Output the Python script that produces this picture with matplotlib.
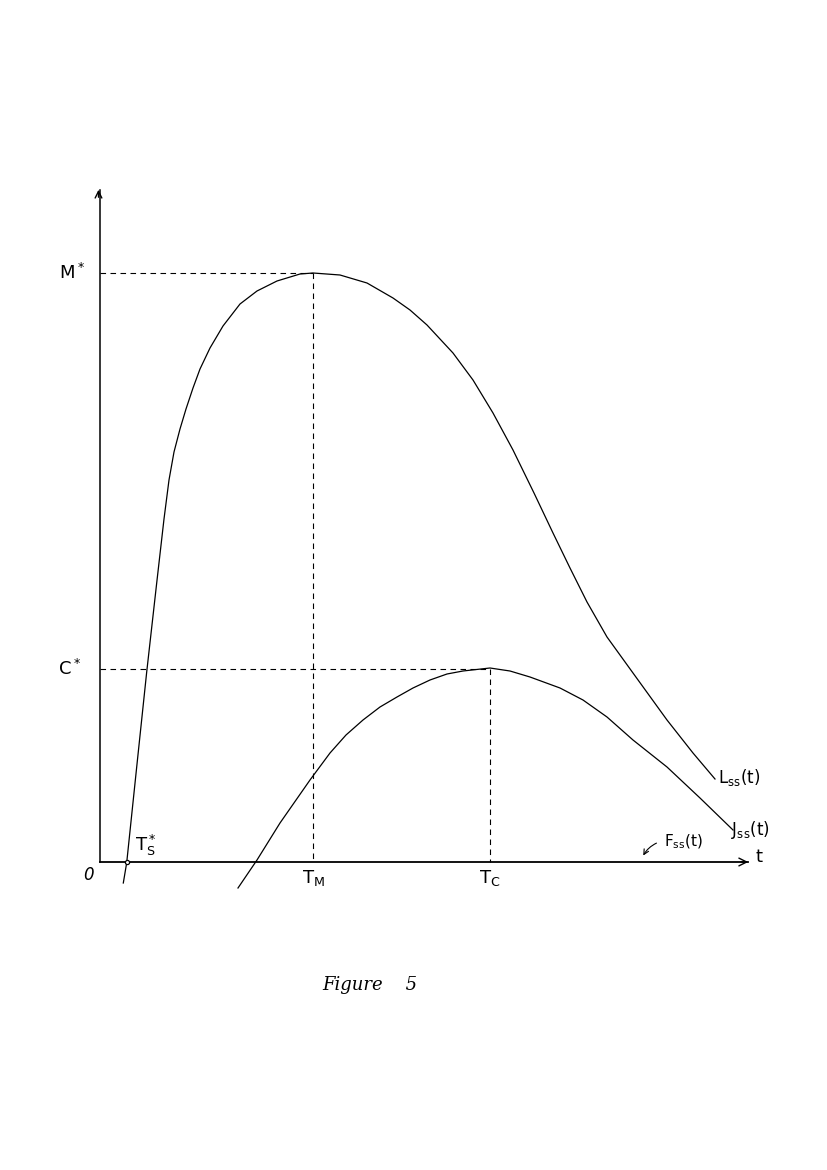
import numpy as np
import matplotlib
matplotlib.use("Agg")
import matplotlib.pyplot as plt

plt.rcParams['mathtext.fontset'] = 'dejavusans'

# L_ss(t) curve (t, value)
l_t = [2.33, 2.67, 3.67, 4.67, 5.67, 6.4, 6.9, 7.4, 8.0, 8.6, 9.3, 10.0, 11.0,
       12.3, 14.0, 15.7, 17.7, 20.0, 21.3, 24.0, 26.7, 29.3, 31.0, 32.7, 35.3,
       37.3, 39.3, 41.3, 43.4, 45.3, 47.0, 48.7, 50.7, 53.3, 56.7, 59.3, 61.5]
l_val = [-2.1, -0.07, 9.5, 19.0, 27.9, 34.3, 38.2, 41.0, 43.3, 45.3, 47.4, 49.3,
         51.4, 53.6, 55.8, 57.1, 58.1, 58.8, 58.9, 58.7, 57.9, 56.4, 55.2, 53.7,
         50.9, 48.2, 44.9, 41.2, 36.9, 32.9, 29.4, 26.0, 22.5, 18.9, 14.2, 10.9, 8.3]

# J_ss(t) curve
j_t = [13.8, 15.7, 18.0, 21.0, 23.0, 24.6, 26.3, 28.0, 29.7, 31.3, 33.0, 34.7,
       36.3, 39.0, 41.0, 43.0, 46.0, 48.3, 50.7, 53.3, 56.7, 60.0, 63.3]
j_val = [-2.6, 0.2, 3.9, 8.2, 10.9, 12.7, 14.2, 15.5, 16.5, 17.4, 18.2, 18.8,
         19.1, 19.4, 19.1, 18.5, 17.4, 16.2, 14.5, 12.2, 9.5, 6.4, 3.2]

# marked points
m_star, t_m = 58.9, 21.3
c_star, t_c = 19.3, 39.0
t_s = 2.65
t_end, y_end = 64.8, 67.2

fig = plt.figure(figsize=(8.27, 11.70), dpi=100)
ax = fig.add_axes([0, 0, 1, 1])
ax.set_xlim(-10, 72.7)
ax.set_ylim(-30.8, 86.2)
ax.axis('off')

lw = 0.9
# axes with open arrow heads
ax.plot([0, t_end], [0, 0], color='black', lw=1.3)
ax.plot([0, 0], [0, y_end], color='black', lw=1.1)
ax.annotate('', xy=(t_end + 0.3, 0), xytext=(t_end - 1, 0),
            arrowprops=dict(arrowstyle='->', color='black', lw=1.0, mutation_scale=14))
ax.annotate('', xy=(-0.15, y_end + 0.3), xytext=(-0.15, y_end - 1),
            arrowprops=dict(arrowstyle='->', color='black', lw=1.0, mutation_scale=12))

# curves
ax.plot(l_t, l_val, color='black', lw=lw, solid_joinstyle='round')
ax.plot(j_t, j_val, color='black', lw=lw, solid_joinstyle='round')

# dashed guides
dash = dict(color='black', lw=0.8, dashes=(5, 4))
ax.plot([0, t_m], [m_star, m_star], **dash)
ax.plot([t_m, t_m], [m_star, 0], **dash)
ax.plot([0, t_c], [c_star, c_star], **dash)
ax.plot([t_c, t_c], [c_star, 0], **dash)

ax.plot([t_s], [0], marker='o', ms=3, mfc='white', mec='black', mew=0.9)

fs = 13
ax.text(-2.8, m_star, r'$\mathregular{M^*}$', fontsize=fs, ha='center', va='center')
ax.text(-3.0, c_star, r'$\mathregular{C^*}$', fontsize=fs, ha='center', va='center')
ax.text(-1.2, -1.3, '0', fontsize=12, ha='center', va='center', style='italic')
ax.text(4.6, 1.7, r'$\mathregular{T_S^*}$', fontsize=fs, ha='center', va='center')
ax.text(t_m, -1.6, r'$\mathregular{T_M}$', fontsize=fs, ha='center', va='center')
ax.text(t_c, -1.6, r'$\mathregular{T_C}$', fontsize=fs, ha='center', va='center')
ax.text(61.8, 8.4, r'$\mathregular{L_{ss}(t)}$', fontsize=12, ha='left', va='center')
ax.text(63.1, 3.2, r'$\mathregular{J_{ss}(t)}$', fontsize=12, ha='left', va='center')
ax.text(56.4, 2.0, r'$\mathregular{F_{ss}(t)}$', fontsize=11, ha='left', va='center')
ax.text(65.9, 0.5, 't', fontsize=13, ha='center', va='center')
ax.annotate('', xy=(54.2, 0.4), xytext=(55.9, 2.0),
            arrowprops=dict(arrowstyle='->', color='black', lw=0.8,
                            connectionstyle='arc3,rad=0.2', mutation_scale=9))

ax.text(27.0, -12.3, 'Figure    5', fontsize=13, ha='center', va='center',
        family='DejaVu Serif', style='italic')

fig.savefig('out.png', dpi=100)
